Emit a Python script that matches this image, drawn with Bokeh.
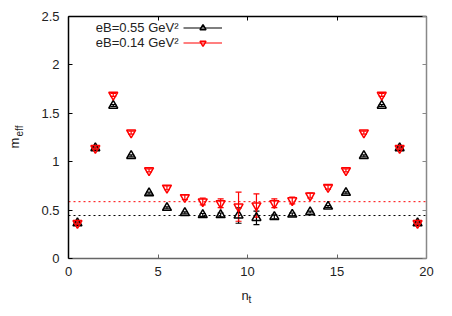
import math
from bokeh.plotting import figure
from bokeh.models import (ColumnDataSource, Whisker, TeeHead, LinearAxis, Range1d,
                          Legend, LegendItem, Label, FixedTicker)
from bokeh.embed import file_html
from bokeh.resources import INLINE

# ---- data ----
nt = [0.5, 1.5, 2.5, 3.5, 4.5, 5.5, 6.5, 7.5, 8.5, 9.5,
      10.5, 11.5, 12.5, 13.5, 14.5, 15.5, 16.5, 17.5, 18.5, 19.5]
m055 = [0.365, 1.14, 1.58, 1.06, 0.675, 0.524, 0.472, 0.45, 0.45, 0.444,
        0.42, 0.43, 0.455, 0.48, 0.537, 0.679, 1.06, 1.58, 1.14, 0.365]
e055 = [0.01, 0.01, 0.01, 0.01, 0.01, 0.01, 0.01, 0.015, 0.02, 0.08,
        0.07, 0.02, 0.015, 0.01, 0.01, 0.01, 0.01, 0.01, 0.01, 0.01]
m014 = [0.365, 1.14, 1.69, 1.30, 0.91, 0.73, 0.633, 0.589, 0.571, 0.535,
        0.547, 0.571, 0.60, 0.65, 0.737, 0.91, 1.30, 1.69, 1.14, 0.365]
e014 = [0.01, 0.01, 0.015, 0.015, 0.015, 0.02, 0.025, 0.035, 0.045, 0.15,
        0.12, 0.045, 0.035, 0.025, 0.02, 0.015, 0.015, 0.015, 0.01, 0.01]
fit_x = [0, 20]
fit055 = [0.444, 0.444]
fit014 = [0.587, 0.587]
labels = ["eB=0.55 GeV\u00b2", "eB=0.14 GeV\u00b2"]
x_ticks = [0, 5, 10, 15, 20]
y_ticks = [0, 0.5, 1, 1.5, 2, 2.5]
x_lim = (0, 20)
y_lim = (0, 2.5)

# ---- layout (pixels) ----
W, H = 436, 310
FL, FR, FT, FB = 68, 426, 16, 258   # plot box edges
FONT = "Liberation Sans"
TXT = "#222222"

sx = (x_lim[1] - x_lim[0]) / (FR - FL)
sy = (y_lim[1] - y_lim[0]) / (FB - FT)
xr = Range1d(x_lim[0] - FL * sx, x_lim[1] + (W - FR) * sx)
yr = Range1d(y_lim[0] - (H - FB) * sy, y_lim[1] + FT * sy)

p = figure(width=W, height=H, output_backend="svg", toolbar_location=None,
           x_range=xr, y_range=yr)
p.min_border = 0
p.min_border_left = 0
p.min_border_right = 0
p.min_border_top = 0
p.min_border_bottom = 0
p.grid.visible = False
p.outline_line_color = None
p.background_fill_color = None
p.border_fill_color = "white"


def style_axis(ax, ticks, loc, bounds, color, show_labels):
    ax.ticker = FixedTicker(ticks=ticks)
    ax.fixed_location = loc
    ax.bounds = bounds
    ax.major_tick_in = 4
    ax.major_tick_out = 0
    ax.minor_tick_in = 0
    ax.minor_tick_out = 0
    ax.axis_line_color = color
    ax.axis_line_width = 1.5
    ax.major_tick_line_color = color
    ax.major_tick_line_width = 1
    ax.major_label_text_font = FONT
    ax.major_label_text_font_size = "13px"
    ax.major_label_text_color = TXT
    ax.major_label_standoff = 8
    if not show_labels:
        ax.major_label_text_alpha = 0


xb = p.xaxis[0]
yl = p.yaxis[0]
style_axis(xb, x_ticks, y_lim[0], x_lim, "#666666", True)
style_axis(yl, y_ticks, x_lim[0], y_lim, "black", True)
yl.major_label_standoff = 9
yl.major_label_overrides = {0: "0", 0.5: "0.5", 1: "1", 1.5: "1.5", 2: "2", 2.5: "2.5"}

top = LinearAxis()
style_axis(top, x_ticks, y_lim[1], x_lim, "black", False)
p.add_layout(top, "above")
right = LinearAxis()
style_axis(right, y_ticks, x_lim[1], y_lim, "#888888", False)
p.add_layout(right, "right")

s055 = ColumnDataSource(dict(x=nt, y=m055, lo=[a - b for a, b in zip(m055, e055)],
                             hi=[a + b for a, b in zip(m055, e055)]))
s014 = ColumnDataSource(dict(x=nt, y=m014, lo=[a - b for a, b in zip(m014, e014)],
                             hi=[a + b for a, b in zip(m014, e014)]))

p.line(fit_x, fit014, line_color="red", line_dash="2 3", line_width=1)
p.line(fit_x, fit055, line_color="black", line_dash="2 3", line_width=1)

for src, col in ((s055, "black"), (s014, "red")):
    w = Whisker(source=src, base="x", lower="lo", upper="hi", line_color=col, line_width=1.2,
                upper_head=TeeHead(size=6, line_color=col, line_width=1.2),
                lower_head=TeeHead(size=6, line_color=col, line_width=1.2))
    p.add_layout(w)

r055 = p.scatter("x", "y", source=s055, marker="triangle", size=9, fill_color=None,
                 line_color="black", line_width=1.5)
r014 = p.scatter("x", "y", source=s014, marker="inverted_triangle", size=9, fill_color=None,
                 line_color="red", line_width=1.5)

nan = float("nan")
l055 = p.line([nan], [nan], line_color="black", line_width=1.2)
l014 = p.line([nan], [nan], line_color="red", line_width=1.2)

legend = Legend(items=[LegendItem(label=" ", renderers=[l055, r055]),
                       LegendItem(label=" ", renderers=[l014, r014])],
                location=(183, H - 50), glyph_width=39, glyph_height=15, label_height=15,
                spacing=0, padding=0, margin=0, border_line_color=None,
                background_fill_alpha=0, label_text_font_size="1px", label_standoff=0)
p.add_layout(legend, "center")

for i, lab in enumerate(labels):
    p.add_layout(Label(x=178, y=H - 27 - i * 15, x_units="screen", y_units="screen", text=lab,
                       text_align="right", text_baseline="middle", text_font=FONT,
                       text_font_size="13px", text_color=TXT))

# axis titles
p.add_layout(Label(x=241, y=H - 295, x_units="screen", y_units="screen", text="n",
                   text_baseline="alphabetic", text_font=FONT, text_font_size="13px",
                   text_color=TXT))
p.add_layout(Label(x=248, y=H - 299, x_units="screen", y_units="screen", text="t",
                   text_baseline="alphabetic", text_font=FONT, text_font_size="10px",
                   text_color=TXT))
p.add_layout(Label(x=14, y=H - 148, x_units="screen", y_units="screen", text="m",
                   angle=math.pi / 2, text_align="left", text_baseline="alphabetic",
                   text_font=FONT, text_font_size="13px", text_color=TXT))
p.add_layout(Label(x=19, y=H - 136, x_units="screen", y_units="screen", text="eff",
                   angle=math.pi / 2, text_align="left", text_baseline="alphabetic",
                   text_font=FONT, text_font_size="10px", text_color=TXT))

file = open("out.html", "w")
file.write(file_html(p, INLINE))
file.close()
